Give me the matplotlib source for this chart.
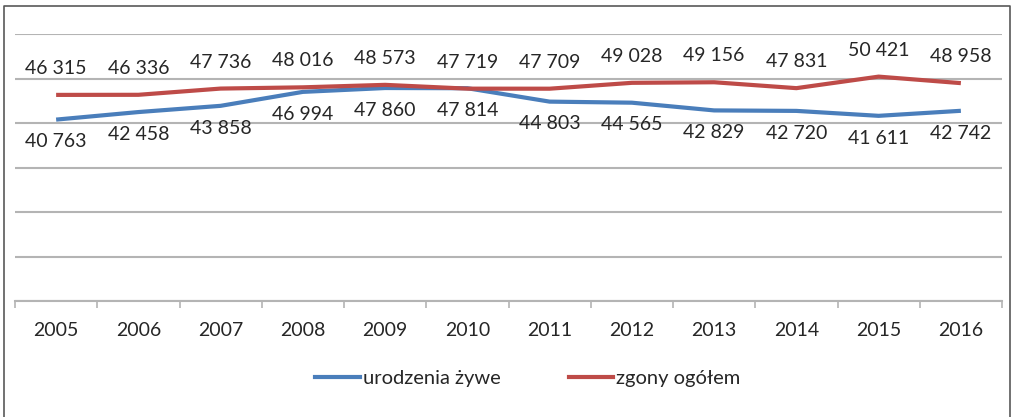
import matplotlib.pyplot as plt
from matplotlib.lines import Line2D

years = [2005, 2006, 2007, 2008, 2009, 2010, 2011, 2012, 2013, 2014, 2015, 2016]
births = [40763, 42458, 43858, 46994, 47860, 47814, 44803, 44565, 42829, 42720, 41611, 42742]
deaths = [46315, 46336, 47736, 48016, 48573, 47719, 47709, 49028, 49156, 47831, 50421, 48958]

blue = "#4a7ebb"
red = "#be4b48"
grid_col = "#b4b4b4"
text_col = "#262626"

plt.rcParams["font.family"] = ["Lato", "DejaVu Sans"]

W, H = 1012, 417
fig = plt.figure(figsize=(W / 100, H / 100), dpi=100)
ax = fig.add_axes([15 / W, (H - 301) / H, (1002 - 15) / W, (301 - 34) / H])

x = list(range(len(years)))
ax.plot(x, births, color=blue, lw=3, solid_capstyle="butt", zorder=3)
ax.plot(x, deaths, color=red, lw=3, solid_capstyle="butt", zorder=3)


def fmt(v):
    return f"{v:,}".replace(",", " ")


for i, v in enumerate(deaths):
    ax.annotate(fmt(v), (i, v), xytext=(0, 19), textcoords="offset points",
                ha="center", va="center", fontsize=14, color=text_col)
for i, v in enumerate(births):
    ax.annotate(fmt(v), (i, v), xytext=(0, -16), textcoords="offset points",
                ha="center", va="center", fontsize=14, color=text_col)

ax.set_xlim(-0.5, len(years) - 0.5)
ax.set_ylim(0, 60000)
ax.set_yticks(range(0, 60001, 10000))
ax.yaxis.grid(True, color=grid_col, lw=1.5)
ax.set_axisbelow(True)
ax.tick_params(axis="y", left=False, labelleft=False)

ax.set_xticks(x)
ax.set_xticklabels([str(y) for y in years], fontsize=14, color=text_col)
ax.set_xticks([i - 0.5 for i in range(len(years) + 1)], minor=True)
ax.tick_params(axis="x", which="major", length=0, pad=15)
ax.tick_params(axis="x", which="minor", length=5, width=1.2, color=grid_col, direction="out")

for s in ["top", "right", "left"]:
    ax.spines[s].set_visible(False)
ax.spines["bottom"].set_color(grid_col)
ax.spines["bottom"].set_linewidth(1.5)

handles = [Line2D([], [], color=blue, lw=3), Line2D([], [], color=red, lw=3)]
fig.legend(handles, ["urodzenia żywe", "zgony ogółem"], loc="center",
           bbox_to_anchor=(528 / W, (H - 378) / H), ncol=2, frameon=False,
           fontsize=14.5, handlelength=2.2, handletextpad=0.15, columnspacing=3.4,
           labelcolor=text_col)

# chart frame
frame = [(4 / W, 4 / W, 1010 / W, 1010 / W), (-0.01, (H - 6) / H, (H - 6) / H, -0.01)]
fig.add_artist(Line2D(frame[0], frame[1], color="#595959", lw=1.2))

fig.savefig("out.png", dpi=100)
